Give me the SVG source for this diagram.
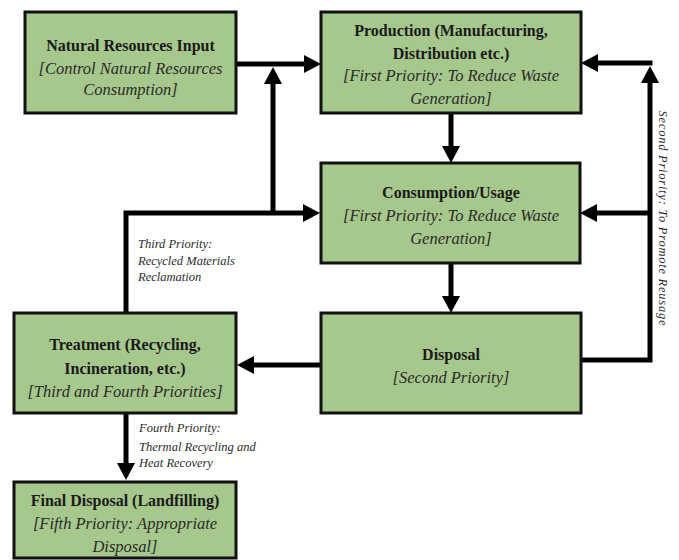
<svg xmlns="http://www.w3.org/2000/svg" width="679" height="560" viewBox="0 0 679 560">
<defs>
<marker id="ah" markerUnits="userSpaceOnUse" markerWidth="18" markerHeight="18" refX="7" refY="9" orient="auto">
<path d="M0,0 L17,9 L0,18 z" fill="#000"/>
</marker>
<style>
.box{fill:#a6c88c;stroke:#111;stroke-width:3}
.t{font-size:16px;font-weight:bold;fill:#1a1a1a;text-anchor:middle}
.i{font-size:16.5px;font-style:italic;fill:#2a2a2a;text-anchor:middle}
.s{font-size:12.5px;font-style:italic;fill:#2a2a2a}
.c{fill:none;stroke:#000;stroke-width:5;stroke-linejoin:miter}
</style>
</defs>
<rect width="679" height="560" fill="#fff"/>
<g id="connectors">
<path class="c" d="M236,64 H311" marker-end="url(#ah)"/>
<path class="c" d="M273,213 V77" marker-end="url(#ah)"/>
<path class="c" d="M451,113 V153" marker-end="url(#ah)"/>
<path class="c" d="M451,263 V303" marker-end="url(#ah)"/>
<path class="c" d="M321,365 H247" marker-end="url(#ah)"/>
<path class="c" d="M126,313 V213 H310" marker-end="url(#ah)"/>
<path class="c" d="M581,360 H650 V76" marker-end="url(#ah)"/>
<path class="c" d="M652.5,63 H591" marker-end="url(#ah)"/>
<path class="c" d="M650,213 H590" marker-end="url(#ah)"/>
<path class="c" d="M126,413 V470" marker-end="url(#ah)"/>
</g>
<g font-family="'Liberation Serif', 'DejaVu Serif', 'Noto Serif', 'Times New Roman', Times, serif">
<g id="natural">
<rect class="box" x="25" y="12" width="211" height="101"/>
<text class="t" x="130.5" y="51">Natural Resources Input</text>
<text class="i" x="130.5" y="74">[Control Natural Resources</text>
<text class="i" x="130.5" y="95">Consumption]</text>
</g>
<g id="production">
<rect class="box" x="321" y="12" width="260" height="101"/>
<text class="t" x="451" y="36">Production (Manufacturing,</text>
<text class="t" x="451" y="59">Distribution  etc.)</text>
<text class="i" x="451" y="81">[First Priority:  To Reduce Waste</text>
<text class="i" x="451" y="104">Generation]</text>
</g>
<g id="consumption">
<rect class="box" x="321" y="163" width="259" height="100"/>
<text class="t" x="451" y="198">Consumption/Usage</text>
<text class="i" x="451" y="221">[First Priority:  To Reduce Waste</text>
<text class="i" x="451" y="244">Generation]</text>
</g>
<g id="treatment">
<rect class="box" x="14" y="313" width="222" height="100"/>
<text class="t" x="125" y="350">Treatment  (Recycling,</text>
<text class="t" x="125" y="374">Incineration,  etc.)</text>
<text class="i" x="125" y="397">[Third and Fourth Priorities]</text>
</g>
<g id="disposal">
<rect class="box" x="321" y="313" width="260" height="100"/>
<text class="t" x="451" y="360">Disposal</text>
<text class="i" x="451" y="383">[Second Priority]</text>
</g>
<g id="final">
<rect class="box" x="14" y="482" width="222" height="76"/>
<text class="t" x="125" y="506">Final Disposal (Landfilling)</text>
<text class="i" x="125" y="529">[Fifth Priority:  Appropriate</text>
<text class="i" x="125" y="552">Disposal]</text>
</g>
<g id="labels">
<text class="s" x="138" y="248">Third Priority:</text>
<text class="s" x="138" y="265">Recycled  Materials</text>
<text class="s" x="138" y="281">Reclamation</text>
<text class="s" x="139" y="432">Fourth Priority:</text>
<text class="s" x="139" y="451">Thermal Recycling  and</text>
<text class="s" x="139" y="467">Heat Recovery</text>
<text class="s" transform="translate(659,218) rotate(90)" text-anchor="middle" font-size="14" textLength="215" lengthAdjust="spacing">Second Priority:  To Promote Reusage</text>
</g>
</g>
</svg>
